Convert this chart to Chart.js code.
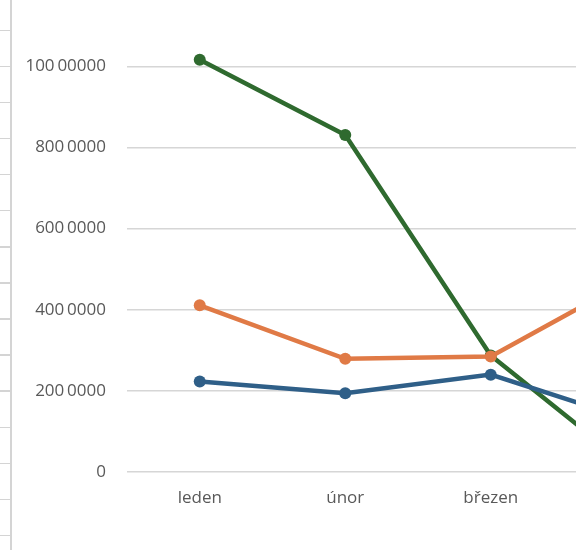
<!DOCTYPE html>
<html>
<head>
<meta charset="utf-8">
<script src="https://cdn.jsdelivr.net/npm/chart.js@4"></script>
<style>
  html, body { margin: 0; padding: 0; background: #fff; width: 576px; height: 550px; overflow: hidden; position: relative; }
  #rows {
    position: absolute; left: 0; top: 0; width: 10px; height: 550px;
    border-right: 2px solid #d4d4d4;
    background: repeating-linear-gradient(to bottom, transparent 0px, transparent 29.5px, #d4d4d4 29.5px, #d4d4d4 31px, transparent 31px, transparent 36.1px);
  }
  #wrap { position: absolute; left: 0; top: -46px; width: 715px; height: 578px; }
</style>
</head>
<body>
<div id="rows"></div>
<div id="wrap"><canvas id="chart" width="715" height="578"></canvas></div>
<script>
// data
const months = ['leden', 'únor', 'březen', 'duben'];
const greenSeries = [10160000, 8310000, 2870000, 0];
const orangeSeries = [4110000, 2790000, 2850000, 4820000];
const blueSeries = [2230000, 1940000, 2400000, 1240000];
const yTickValues = [0, 2000000, 4000000, 6000000, 8000000, 10000000, 12000000];
const yTickLabels = ['0', '200\u20090000', '400\u20090000', '600\u20090000', '800\u20090000', '100\u200900000', '120\u200900000'];

document.addEventListener("DOMContentLoaded", () => {
    const ctx = document.getElementById('chart').getContext('2d');

    function line(data, color) {
        return {
            data: data,
            borderColor: color,
            backgroundColor: color,
            borderWidth: 4.5,
            pointRadius: 6,
            pointHoverRadius: 6,
            pointBorderWidth: 0,
            tension: 0
        };
    }

    new Chart(ctx, {
        type: 'line',
        data: {
            labels: months,
            datasets: [
                line(blueSeries, '#2f5f88'),
                line(orangeSeries, '#e07a46'),
                line(greenSeries, '#2f6a2f')
            ]
        },
        options: {
            responsive: false,
            animation: false,
            devicePixelRatio: 1,
            layout: { padding: { top: 24, left: 0, right: 0, bottom: 0 } },
            plugins: { legend: { display: false }, tooltip: { enabled: false } },
            scales: {
                x: {
                    offset: true,
                    grid: { display: false, drawTicks: false },
                    border: { display: false },
                    ticks: {
                        color: '#595959',
                        font: { family: 'Open Sans', size: 17 },
                        padding: 16,
                        maxRotation: 0
                    },
                    afterFit: s => { s.height = 60; }
                },
                y: {
                    min: 0,
                    max: 12000000,
                    afterBuildTicks: s => { s.ticks = yTickValues.map(v => ({ value: v })); },
                    grid: { color: '#d6d6d6', lineWidth: 1.5, drawTicks: false },
                    border: { display: false },
                    ticks: {
                        color: '#595959',
                        font: { family: 'Open Sans', size: 17 },
                        padding: 21,
                        callback: (v) => yTickLabels[yTickValues.indexOf(v)]
                    },
                    afterFit: s => { s.width = 127; }
                }
            }
        }
    });
});
</script>
</body>
</html>
